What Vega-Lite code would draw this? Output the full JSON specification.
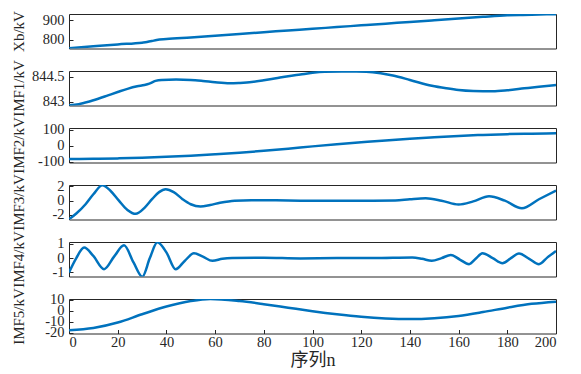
{
  "$schema": "https://vega.github.io/schema/vega-lite/v6.json",
  "padding": {"left": 10, "top": 10, "right": 10, "bottom": 5},
  "background": "white",
  "bounds": "flush",
  "spacing": 22,
  "config": {
    "font": "Liberation Serif",
    "style": {"guide-label": {"font": "Liberation Serif"}, "guide-title": {"font": "Liberation Serif"}},
    "view": {"stroke": "#262626", "strokeWidth": 1},
    "axis": {
      "labelFont": "Liberation Serif", "labelFontSize": 14.5, "labelColor": "#262626",
      "titleFont": "Liberation Serif", "titleFontSize": 15, "titleFontWeight": "normal", "titleColor": "#262626",
      "domain": false, "grid": false, "tickColor": "#262626", "tickSize": -4, "labelPadding": 9,
      "labelOverlap": false, "labelExpr": "datum.value + ''"
    },
    "axisLeft": {"titleX": -51, "titleY": 17, "titleAlign": "center", "titleBaseline": "middle", "titleAngle": -90}
  },
  "datasets": {
    "xb": [
      {"n":0,"v":757},{"n":10,"v":767},{"n":20,"v":777},{"n":30,"v":786},{"n":32,"v":789},{"n":34,"v":794},{"n":36,"v":800},
      {"n":40,"v":804.5},{"n":50,"v":813},{"n":60,"v":822},{"n":70,"v":831},{"n":80,"v":839.6},{"n":90,"v":848.4},{"n":100,"v":857},
      {"n":110,"v":866},{"n":120,"v":874.7},{"n":130,"v":883.5},{"n":140,"v":892},{"n":150,"v":901},{"n":160,"v":910},{"n":170,"v":918.5},
      {"n":180,"v":926},{"n":185,"v":928},{"n":190,"v":929.5},{"n":200,"v":932}
    ],
    "imf1": [
      {"n":0,"v":842.8},{"n":4,"v":842.86},{"n":8,"v":843.0},{"n":12,"v":843.18},{"n":16,"v":843.38},{"n":20,"v":843.58},{"n":24,"v":843.77},
      {"n":28,"v":843.92},{"n":31,"v":844.0},{"n":33,"v":844.08},{"n":35.5,"v":844.24},{"n":38,"v":844.3},{"n":44,"v":844.32},{"n":50,"v":844.3},
      {"n":55,"v":844.24},{"n":60,"v":844.16},{"n":66,"v":844.1},{"n":70,"v":844.12},{"n":75,"v":844.17},{"n":80,"v":844.28},{"n":85,"v":844.4},
      {"n":90,"v":844.52},{"n":95,"v":844.62},{"n":100,"v":844.72},{"n":105,"v":844.78},{"n":112,"v":844.8},{"n":118,"v":844.8},{"n":122,"v":844.79},
      {"n":128,"v":844.7},{"n":133,"v":844.56},{"n":140,"v":844.3},{"n":149,"v":843.95},{"n":155,"v":843.8},{"n":160,"v":843.7},{"n":166,"v":843.64},
      {"n":174,"v":843.62},{"n":180,"v":843.68},{"n":187,"v":843.8},{"n":193,"v":843.9},{"n":200,"v":844.0}
    ],
    "imf2": [
      {"n":0,"v":-82},{"n":10,"v":-81},{"n":20,"v":-78.5},{"n":30,"v":-74.5},{"n":40,"v":-69},{"n":50,"v":-62},{"n":60,"v":-53},{"n":70,"v":-43},
      {"n":80,"v":-31.5},{"n":90,"v":-18.5},{"n":100,"v":-4},{"n":110,"v":9},{"n":120,"v":21},{"n":130,"v":33},{"n":140,"v":44},{"n":150,"v":53},
      {"n":160,"v":61},{"n":170,"v":67},{"n":180,"v":72},{"n":190,"v":75},{"n":200,"v":77}
    ],
    "imf3": [
      {"n":0,"v":-2.6},{"n":3,"v":-1.8},{"n":6.8,"v":-0.5},{"n":10,"v":0.9},{"n":13.7,"v":2.15},{"n":17,"v":1.4},{"n":20.5,"v":0.0},{"n":24,"v":-1.3},
      {"n":27.4,"v":-1.85},{"n":31,"v":-1.0},{"n":34.2,"v":0.25},{"n":37,"v":1.2},{"n":39.7,"v":1.6},{"n":43,"v":1.2},{"n":46.5,"v":0.25},{"n":50,"v":-0.5},
      {"n":54,"v":-0.82},{"n":58,"v":-0.6},{"n":62,"v":-0.3},{"n":68,"v":0.0},{"n":75,"v":0.07},{"n":85,"v":0.05},{"n":95,"v":0.0},{"n":105,"v":-0.02},
      {"n":115,"v":0.0},{"n":125,"v":0.0},{"n":134,"v":0.02},{"n":140,"v":0.2},{"n":146.5,"v":0.34},{"n":153,"v":0.0},{"n":160,"v":-0.54},{"n":166,"v":-0.1},
      {"n":172.5,"v":0.62},{"n":179,"v":0.0},{"n":186,"v":-1.06},{"n":193,"v":0.2},{"n":200,"v":1.42}
    ],
    "imf4": [
      {"n":0,"v":-1.0},{"n":3,"v":0.0},{"n":6.2,"v":0.73},{"n":10,"v":0.15},{"n":14.4,"v":-0.77},{"n":18.5,"v":0.1},{"n":22.6,"v":0.89},{"n":26.5,"v":-0.3},
      {"n":30.1,"v":-1.29},{"n":33.2,"v":0.0},{"n":36.3,"v":1.1},{"n":40,"v":0.4},{"n":43.8,"v":-0.77},{"n":47.5,"v":-0.2},{"n":51.3,"v":0.33},{"n":55,"v":0.1},
      {"n":58.9,"v":-0.19},{"n":63,"v":-0.05},{"n":67,"v":0.0},{"n":80,"v":0.02},{"n":95,"v":-0.02},{"n":110,"v":0.0},{"n":125,"v":0.0},{"n":141,"v":0.04},
      {"n":145,"v":-0.05},{"n":149,"v":-0.19},{"n":153,"v":0.0},{"n":156.8,"v":0.22},{"n":160.5,"v":-0.1},{"n":164.3,"v":-0.42},{"n":167,"v":-0.05},
      {"n":169.8,"v":0.34},{"n":174,"v":0.0},{"n":178,"v":-0.35},{"n":181.5,"v":0.0},{"n":184.8,"v":0.32},{"n":189,"v":-0.05},{"n":193,"v":-0.42},
      {"n":196.5,"v":0.05},{"n":200,"v":0.5}
    ],
    "imf5": [
      {"n":0,"v":-17.5},{"n":10,"v":-15.5},{"n":20,"v":-10.5},{"n":30,"v":-3},{"n":40,"v":4},{"n":50,"v":9},{"n":58,"v":10.9},{"n":70,"v":9},
      {"n":80,"v":6.2},{"n":90,"v":3},{"n":100,"v":-0.2},{"n":110,"v":-3},{"n":120,"v":-5.3},{"n":130,"v":-6.8},{"n":140,"v":-7.4},{"n":150,"v":-6.6},
      {"n":160,"v":-4.5},{"n":170,"v":-1},{"n":180,"v":3},{"n":190,"v":6.5},{"n":200,"v":8.5}
    ]
  },
  "vconcat": [
    {
      "width": 487, "height": 34.5,
      "data": {"name": "xb"},
      "mark": {"type": "line", "color": "#0072BD", "strokeWidth": 2.5, "interpolate": "monotone", "clip": true},
      "encoding": {
        "x": {"field": "n", "type": "quantitative", "scale": {"domain": [0, 200], "nice": false}, "axis": null},
        "y": {"field": "v", "type": "quantitative", "scale": {"domain": [756, 933], "nice": false, "zero": false},
              "axis": {"values": [800, 900], "title": "Xb/kV"}}
      }
    },
    {
      "width": 487, "height": 34.5,
      "data": {"name": "imf1"},
      "mark": {"type": "line", "color": "#0072BD", "strokeWidth": 2.5, "interpolate": "monotone", "clip": true},
      "encoding": {
        "x": {"field": "n", "type": "quantitative", "scale": {"domain": [0, 200], "nice": false}, "axis": null},
        "y": {"field": "v", "type": "quantitative", "scale": {"domain": [842.78, 844.83], "nice": false, "zero": false},
              "axis": {"values": [843, 844.5], "title": "IMF1/kV"}}
      }
    },
    {
      "width": 487, "height": 34.5,
      "data": {"name": "imf2"},
      "mark": {"type": "line", "color": "#0072BD", "strokeWidth": 2.5, "interpolate": "monotone", "clip": true},
      "encoding": {
        "x": {"field": "n", "type": "quantitative", "scale": {"domain": [0, 200], "nice": false}, "axis": null},
        "y": {"field": "v", "type": "quantitative", "scale": {"domain": [-104, 110], "nice": false, "zero": false},
              "axis": {"values": [-100, 0, 100], "title": "IMF2/kV"}}
      }
    },
    {
      "width": 487, "height": 34.5,
      "data": {"name": "imf3"},
      "mark": {"type": "line", "color": "#0072BD", "strokeWidth": 2.5, "interpolate": "monotone", "clip": true},
      "encoding": {
        "x": {"field": "n", "type": "quantitative", "scale": {"domain": [0, 200], "nice": false}, "axis": null},
        "y": {"field": "v", "type": "quantitative", "scale": {"domain": [-2.64, 2.2], "nice": false, "zero": false},
              "axis": {"values": [-2, 0, 2], "title": "IMF3/kV"}}
      }
    },
    {
      "width": 487, "height": 34.5,
      "data": {"name": "imf4"},
      "mark": {"type": "line", "color": "#0072BD", "strokeWidth": 2.5, "interpolate": "monotone", "clip": true},
      "encoding": {
        "x": {"field": "n", "type": "quantitative", "scale": {"domain": [0, 200], "nice": false}, "axis": null},
        "y": {"field": "v", "type": "quantitative", "scale": {"domain": [-1.28, 1.12], "nice": false, "zero": false},
              "axis": {"values": [-1, 0, 1], "title": "IMF4/kV"}}
      }
    },
    {
      "width": 487, "height": 34.5,
      "data": {"name": "imf5"},
      "mark": {"type": "line", "color": "#0072BD", "strokeWidth": 2.5, "interpolate": "monotone", "clip": true},
      "encoding": {
        "x": {"field": "n", "type": "quantitative", "scale": {"domain": [0, 200], "nice": false},
              "axis": {"values": [0, 20, 40, 60, 80, 100, 120, 140, 160, 180, 200], "title": "序列n",
                       "labelPadding": 6, "titleFont": "Liberation Serif, Noto Sans CJK SC", "titleFontSize": 18, "titlePadding": 2}},
        "y": {"field": "v", "type": "quantitative", "scale": {"domain": [-20.5, 10.9], "nice": false, "zero": false},
              "axis": {"values": [-20, -10, 0, 10], "title": "IMF5/kV"}}
      }
    }
  ]
}
